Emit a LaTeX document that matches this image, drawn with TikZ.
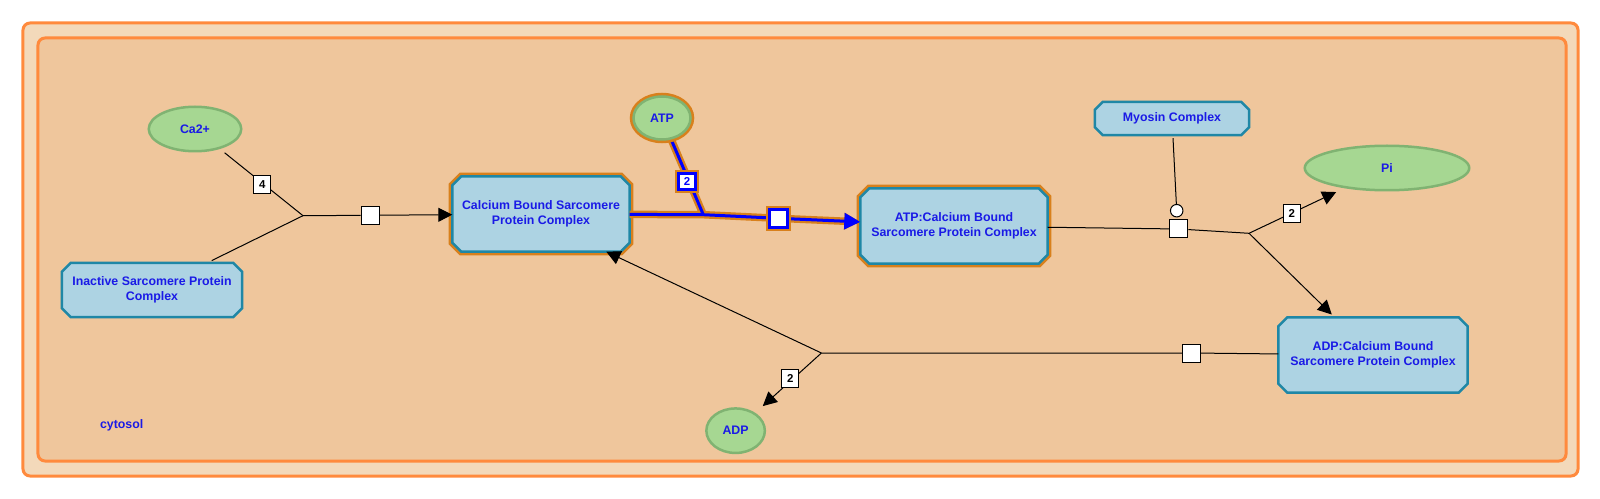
\documentclass[tikz,border=0pt]{standalone}
\usepackage{fontspec}
\setmainfont{Liberation Sans}
\usetikzlibrary{arrows.meta,shapes.geometric,calc}
\pgfdeclarelayer{bg}\pgfdeclarelayer{shp}\pgfdeclarelayer{edg}
\pgfsetlayers{bg,shp,edg,main}
\definecolor{cpout}{HTML}{F3D9BA}
\definecolor{cpin}{HTML}{EFC69C}
\definecolor{cpline}{HTML}{FF8A3D}
\definecolor{cfill}{HTML}{ADD3E3}
\definecolor{cline}{HTML}{1F87A6}
\definecolor{sfill}{HTML}{A6D792}
\definecolor{sline}{HTML}{80B372}
\definecolor{hlor}{HTML}{D8801C}
\definecolor{hlblue}{HTML}{0000FF}
\definecolor{tblue}{HTML}{1A1AE6}
\def\octpath#1#2{($(#2.north west)+(#1,0)$) -- ($(#2.north east)+(-#1,0)$) -- ($(#2.north east)+(0,#1)$) -- ($(#2.south east)+(0,-#1)$) -- ($(#2.south east)+(-#1,0)$) -- ($(#2.south west)+(#1,0)$) -- ($(#2.south west)+(0,-#1)$) -- ($(#2.north west)+(0,#1)$) -- cycle}
\tikzset{
  ent/.style={rectangle, inner sep=0pt, font=\fontsize{12.4}{15.2}\selectfont\bfseries, text=tblue, align=center},
  cplx/.style={ent, draw=none},
  octo/.style={fill=cfill, draw=cline, line width=2.5bp},
  hlocto/.style={octo, preaction={draw=hlor, line width=7.5bp}},
  smol/.style={ent, ellipse, fill=sfill, draw=sline, line width=2.5bp},
  hlsmol/.style={smol, preaction={draw=hlor, line width=7.5bp}},
  comp/.style={rectangle, draw=cpline, line width=3bp, rounded corners=7bp, inner sep=0pt},
  ln/.style={draw=black, line width=1bp},
  arr/.style={ln, -{Triangle[length=14bp,width=14bp]}},
  proc/.style={rectangle, draw=black, fill=white, line width=1bp, minimum size=18bp, inner sep=0pt},
  stoich/.style={rectangle, draw=black, fill=white, line width=1bp, minimum width=17bp, minimum height=18bp, inner sep=0pt, font=\fontsize{11.5}{12}\selectfont\bfseries},
  hlln/.style={draw=hlblue, line width=3bp, preaction={draw=hlor, line width=7.5bp}},
  hlarr/.style={-{Triangle[length=16bp,width=16bp]}},
  hlproc/.style={rectangle, draw=hlblue, fill=white, line width=3bp, minimum size=18bp, inner sep=0pt, preaction={draw=hlor, line width=7bp}},
  hlstoich/.style={hlproc, minimum size=16.5bp, text=hlblue, font=\fontsize{11.5}{12}\selectfont\bfseries},
  catal/.style={circle, draw=black, fill=white, line width=1bp, minimum size=12.5bp, inner sep=0pt}
}
\begin{document}
\begin{tikzpicture}[x=1bp,y=-1bp]
\useasboundingbox (0,0) rectangle (1600,499);
% compartments
\begin{pgfonlayer}{bg}
  \node[comp, fill=cpout, minimum width=1555bp, minimum height=453bp] (outer) at (800.5,249.5) {};
  \node[comp, fill=cpin, minimum width=1528bp, minimum height=423bp] (inner) at (802,249.5) {};
\end{pgfonlayer}
\node[ent] (cyt) at (121.7,425) {cytosol};
% complexes
\node[cplx, minimum width=180bp, minimum height=54bp] (ina) at (152,290) {Inactive Sarcomere Protein\\Complex};
\node[cplx, minimum width=177bp, minimum height=75bp] (cb) at (541,214) {Calcium Bound Sarcomere\\Protein Complex};
\node[cplx, minimum width=187bp, minimum height=75bp] (atpcb) at (954,226) {ATP:Calcium Bound\\Sarcomere Protein Complex};
\node[cplx, minimum width=154bp, minimum height=33bp] (myo) at (1172,118.5) {Myosin Complex};
\node[cplx, minimum width=189bp, minimum height=75bp] (adpcb) at (1373,355) {ADP:Calcium Bound\\Sarcomere Protein Complex};
\begin{pgfonlayer}{shp}
  \path[octo] \octpath{9}{ina};
  \path[hlocto] \octpath{9}{cb};
  \path[hlocto] \octpath{9}{atpcb};
  \path[octo] \octpath{8}{myo};
  \path[octo] \octpath{9}{adpcb};
\end{pgfonlayer}
% small molecules
\node[smol, minimum width=92.5bp, minimum height=44.5bp] (ca) at (195,129) {Ca2+};
\node[hlsmol, minimum width=57bp, minimum height=43bp] (atp) at (662,118) {ATP};
\node[smol, minimum width=164.5bp, minimum height=44.5bp] (pi) at (1387,168) {Pi};
\node[smol, minimum width=58.5bp, minimum height=44.5bp] (adp) at (735.6,430.7) {ADP};
% reaction glyphs
\coordinate (j1) at (303,215.7);
\node[proc] (p1) at (370,215.3) {};
\coordinate (j2) at (703.3,214.7);
\node[hlproc] (p2) at (778.3,218.3) {};
\node[proc] (p3) at (1178.8,229) {};
\coordinate (j3) at (1249,233.3);
\node[catal] (cat) at (1176.7,210.7) {};
\node[proc] (p4) at (1191.7,353) {};
\coordinate (j4) at (821.4,353);
\node[stoich] (s1) at (262.2,185) {4};
\node[hlstoich] (s2) at (687,181.7) {2};
\node[stoich] (s3) at (1291.7,214) {2};
\node[stoich] (s4) at (790.4,378) {2};
\begin{pgfonlayer}{edg}
  % R1
  \draw[ln, shorten >=6bp] (j1) -- (ca);
  \draw[ln, shorten >=5bp] (j1) -- (ina);
  \draw[ln] (j1) -- (p1);
  \draw[arr] (p1) -- (cb);
  % R2 (highlighted)
  \draw[hlln] (cb) -- (j2) -- (p2) (atp) -- (j2);
  \draw[hlln, hlarr] (p2) -- (atpcb);
  % R3
  \draw[ln] (atpcb) -- (p3) -- (j3);
  \draw[arr, shorten >=9bp] (j3) -- (pi);
  \draw[arr, shorten >=4bp] (j3) -- (adpcb);
  \draw[ln, shorten <=3bp] (myo) -- (cat);
  % R4
  \draw[ln] (adpcb) -- (p4) -- (j4);
  \draw[arr, shorten >=10bp] (j4) -- (adp);
  \draw[arr] (j4) -- (cb.-30);
\end{pgfonlayer}
\end{tikzpicture}
\end{document}
